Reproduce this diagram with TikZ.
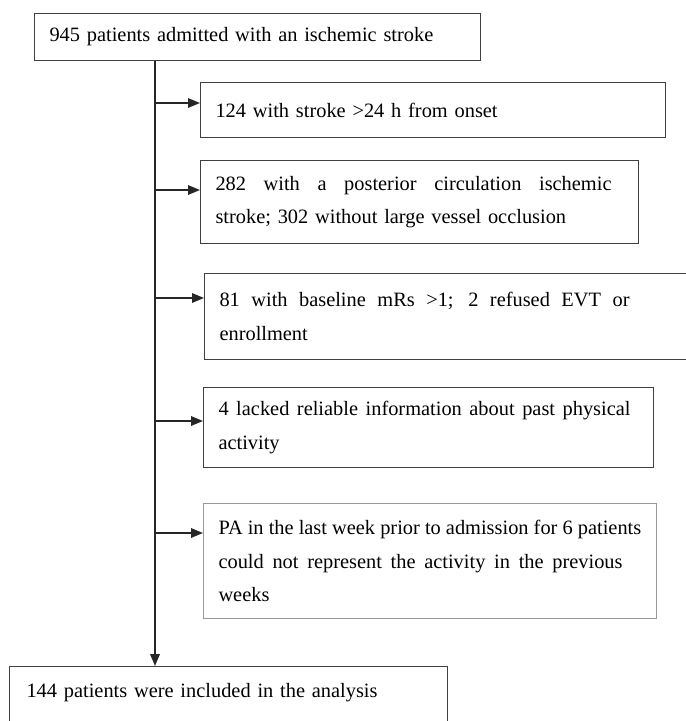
\documentclass[tikz,border=0pt]{standalone}
\usepackage{fontspec}
\setmainfont{Liberation Serif}
\usepackage{tikz}
\usetikzlibrary{arrows.meta}
\tikzset{
  style box/.style={
    rectangle, draw=black!75, line width=0.6pt,
    anchor=north west, inner xsep=0.3cm, align=left,
    font=\fontsize{11.6}{19}\selectfont,
  },
  style light/.style={
    draw=black!40,
  },
  flow/.style={draw=black!85, line width=1.1pt},
  branch/.style={draw=black!85, line width=0.9pt}
}
\newcommand{\fillline}[2]{{\spaceskip=0.25em plus 1fil\makebox[#1][s]{#2}}}

\begin{document}
\begin{tikzpicture}
                    \useasboundingbox (0,0) rectangle (13.72,-14.42);
                    \clip (0,0) rectangle (13.72,-14.42);
                    \begin{scope}[every node/.style={style box}]
                        \node[text width=8.32cm, minimum height=0.94cm] (top) at (0.68,-0.26) {945 patients admitted with an ischemic stroke};
                        \node[text width=8.70cm, minimum height=1.10cm] (ex1) at (4.00,-1.64) {124 with stroke >24 h from onset};
                        \node[text width=8.16cm, minimum height=1.66cm] (ex2) at (4.00,-3.20) {\fillline{7.92cm}{282 with a posterior circulation ischemic}\\stroke; 302 without large vessel occlusion};
                        \node[text width=9.40cm, minimum height=1.72cm] (ex3) at (4.08,-5.46) {\fillline{8.20cm}{81 with baseline mRs >1; 2 refused EVT or}\\enrollment};
                        \node[text width=8.40cm, minimum height=1.60cm] (ex4) at (4.06,-7.74) {\fillline{8.24cm}{4 lacked reliable information about past physical}\\activity};
                        \node[style light, text width=8.46cm, minimum height=2.30cm] (ex5) at (4.06,-10.06) {\fillline{8.08cm}{PA in the last week prior to admission for 6 patients}\\\fillline{8.08cm}{could not represent the activity in the previous}\\weeks};
                        \node[inner xsep=0.34cm, text width=8.08cm, inner ysep=0.2cm, text height=0.42cm, text depth=0.6cm] (incl) at (0.18,-13.32) {144 patients were included in the analysis};
                    \end{scope}
                    % branch points on the main line
                    \coordinate (j1) at (3.10,-2.06);
                    \coordinate (j2) at (3.10,-3.80);
                    \coordinate (j3) at (3.10,-5.96);
                    \coordinate (j4) at (3.10,-8.42);
                    \coordinate (j5) at (3.10,-10.66);
                    \begin{scope}[>={Triangle[length=2.4mm,width=1.9mm]}]
                        \path [->] (top.south -| j1) edge[flow] (incl.north -| j1);

                        \path [->] (j1) edge[branch] (j1 -| ex1.west);
                        \path [->] (j2) edge[branch] (j2 -| ex2.west);
                        \path [->] (j3) edge[branch] (j3 -| ex3.west);
                        \path [->] (j4) edge[branch] (j4 -| ex4.west);
                        \path [->] (j5) edge[branch] (j5 -| ex5.west);
                    \end{scope}
                \end{tikzpicture}
\end{document}
